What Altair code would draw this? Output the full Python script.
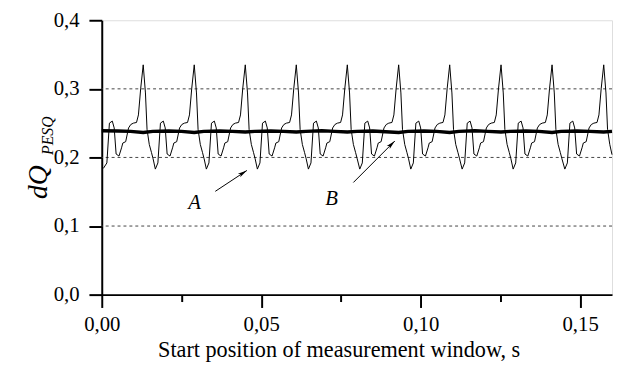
import altair as alt
import pandas as pd

# ---- data ----
thin_x = [
    0.0005, 0.0016, 0.0024, 0.0033, 0.0039, 0.0045, 0.0054, 0.0062, 0.0066, 0.0075, 0.0084, 0.0091, 0.0099, 0.0109, 0.0115, 0.0122, 0.0130, 0.0137, 0.0142, 0.0149, 0.0156, 0.0161,
    0.0168, 0.0176, 0.0184, 0.0193, 0.0199, 0.0205, 0.0214, 0.0222, 0.0226, 0.0235, 0.0244, 0.0251, 0.0259, 0.0269, 0.0275, 0.0282, 0.0290, 0.0297, 0.0302, 0.0309, 0.0316, 0.0321,
    0.0328, 0.0336, 0.0344, 0.0353, 0.0359, 0.0365, 0.0374, 0.0382, 0.0386, 0.0395, 0.0404, 0.0411, 0.0419, 0.0429, 0.0435, 0.0442, 0.0450, 0.0457, 0.0462, 0.0469, 0.0476, 0.0481,
    0.0488, 0.0496, 0.0504, 0.0513, 0.0519, 0.0525, 0.0534, 0.0542, 0.0546, 0.0555, 0.0564, 0.0571, 0.0579, 0.0589, 0.0595, 0.0602, 0.0610, 0.0617, 0.0622, 0.0629, 0.0636, 0.0641,
    0.0648, 0.0656, 0.0664, 0.0673, 0.0679, 0.0685, 0.0694, 0.0702, 0.0706, 0.0715, 0.0724, 0.0731, 0.0739, 0.0749, 0.0755, 0.0762, 0.0770, 0.0777, 0.0782, 0.0789, 0.0796, 0.0801,
    0.0809, 0.0817, 0.0825, 0.0834, 0.0840, 0.0846, 0.0855, 0.0863, 0.0867, 0.0876, 0.0885, 0.0892, 0.0900, 0.0910, 0.0916, 0.0923, 0.0931, 0.0938, 0.0943, 0.0950, 0.0957, 0.0962,
    0.0969, 0.0977, 0.0985, 0.0994, 0.1000, 0.1006, 0.1015, 0.1023, 0.1027, 0.1036, 0.1045, 0.1052, 0.1060, 0.1070, 0.1076, 0.1083, 0.1091, 0.1098, 0.1103, 0.1110, 0.1117, 0.1122,
    0.1130, 0.1138, 0.1146, 0.1155, 0.1161, 0.1167, 0.1176, 0.1184, 0.1188, 0.1197, 0.1206, 0.1213, 0.1221, 0.1231, 0.1237, 0.1244, 0.1252, 0.1259, 0.1264, 0.1271, 0.1278, 0.1283,
    0.1290, 0.1298, 0.1306, 0.1315, 0.1321, 0.1327, 0.1336, 0.1344, 0.1348, 0.1357, 0.1366, 0.1373, 0.1381, 0.1391, 0.1397, 0.1404, 0.1412, 0.1419, 0.1424, 0.1431, 0.1438, 0.1443,
    0.1452, 0.1460, 0.1468, 0.1477, 0.1483, 0.1489, 0.1498, 0.1506, 0.1510, 0.1519, 0.1528, 0.1535, 0.1543, 0.1553, 0.1559, 0.1566, 0.1574, 0.1581, 0.1586, 0.1593, 0.1600,
]
thin_y = [
    0.184, 0.192, 0.250, 0.253, 0.243, 0.205, 0.202, 0.214, 0.221, 0.223, 0.243, 0.248, 0.250, 0.251, 0.262, 0.300, 0.335, 0.294, 0.241, 0.219, 0.207, 0.198,
    0.183, 0.192, 0.250, 0.253, 0.243, 0.205, 0.202, 0.214, 0.221, 0.223, 0.243, 0.248, 0.250, 0.251, 0.262, 0.300, 0.335, 0.294, 0.241, 0.219, 0.207, 0.198,
    0.183, 0.192, 0.250, 0.253, 0.243, 0.205, 0.202, 0.214, 0.221, 0.223, 0.243, 0.248, 0.250, 0.251, 0.262, 0.300, 0.335, 0.294, 0.241, 0.219, 0.207, 0.198,
    0.183, 0.192, 0.250, 0.253, 0.243, 0.205, 0.202, 0.214, 0.221, 0.223, 0.243, 0.248, 0.250, 0.251, 0.262, 0.300, 0.335, 0.294, 0.241, 0.219, 0.207, 0.198,
    0.183, 0.192, 0.250, 0.253, 0.243, 0.205, 0.202, 0.214, 0.221, 0.223, 0.243, 0.248, 0.250, 0.251, 0.262, 0.300, 0.335, 0.294, 0.241, 0.219, 0.207, 0.198,
    0.183, 0.192, 0.250, 0.253, 0.243, 0.205, 0.202, 0.214, 0.221, 0.223, 0.243, 0.248, 0.250, 0.251, 0.262, 0.300, 0.335, 0.294, 0.241, 0.219, 0.207, 0.198,
    0.183, 0.192, 0.250, 0.253, 0.243, 0.205, 0.202, 0.214, 0.221, 0.223, 0.243, 0.248, 0.250, 0.251, 0.262, 0.300, 0.335, 0.294, 0.241, 0.219, 0.207, 0.198,
    0.183, 0.192, 0.250, 0.253, 0.243, 0.205, 0.202, 0.214, 0.221, 0.223, 0.243, 0.248, 0.250, 0.251, 0.262, 0.300, 0.335, 0.294, 0.241, 0.219, 0.207, 0.198,
    0.183, 0.192, 0.250, 0.253, 0.243, 0.205, 0.202, 0.214, 0.221, 0.223, 0.243, 0.248, 0.250, 0.251, 0.262, 0.300, 0.335, 0.294, 0.241, 0.219, 0.207, 0.198,
    0.183, 0.192, 0.250, 0.253, 0.243, 0.205, 0.202, 0.214, 0.221, 0.223, 0.243, 0.248, 0.250, 0.251, 0.262, 0.300, 0.335, 0.294, 0.241, 0.219, 0.204,
]

thick_x = [0.0, 0.005, 0.009, 0.0130, 0.016, 0.021, 0.025, 0.0290, 0.032, 0.037, 0.041, 0.0450,
           0.048, 0.053, 0.057, 0.0610, 0.064, 0.069, 0.073, 0.0770, 0.080, 0.085, 0.089, 0.0931,
           0.096, 0.101, 0.105, 0.1091, 0.112, 0.117, 0.121, 0.1252, 0.128, 0.133, 0.137, 0.1412,
           0.144, 0.149, 0.153, 0.1574, 0.160]
thick_y = [0.2390, 0.2385, 0.2380, 0.2365, 0.2380, 0.2385, 0.2380, 0.2365, 0.2380, 0.2385, 0.2380, 0.2370,
           0.2380, 0.2385, 0.2380, 0.2370, 0.2380, 0.2390, 0.2380, 0.2370, 0.2380, 0.2385, 0.2375, 0.2365,
           0.2380, 0.2385, 0.2380, 0.2365, 0.2380, 0.2390, 0.2380, 0.2370, 0.2380, 0.2385, 0.2380, 0.2365,
           0.2380, 0.2385, 0.2380, 0.2370, 0.2380]

grid_values = [0.1, 0.2, 0.3]
x_ticks = [0.0, 0.025, 0.05, 0.075, 0.10, 0.125, 0.15]
y_ticks = [0.0, 0.05, 0.1, 0.15, 0.2, 0.25, 0.3, 0.35, 0.4]

label_names = ["A", "B"]
label_x = [0.0291, 0.0721]
label_y = [0.134, 0.140]
arrow_x = [0.0356, 0.0789]
arrow_y = [0.1506, 0.1635]
arrow_x2 = [0.0455, 0.0919]
arrow_y2 = [0.181, 0.224]
arrow_angle = [57, 45]

FONT = "Liberation Serif"

thin_df = pd.DataFrame({"x": thin_x, "y": thin_y})
thick_df = pd.DataFrame({"x": thick_x, "y": thick_y})
grid_df = pd.DataFrame({"y": grid_values})
ann_df = pd.DataFrame({"name": label_names, "lx": label_x, "ly": label_y,
                       "ax": arrow_x, "ay": arrow_y, "ax2": arrow_x2, "ay2": arrow_y2,
                       "ang": arrow_angle})

x_scale = alt.Scale(domain=[0, 0.16], nice=False, zero=False)
y_scale = alt.Scale(domain=[0, 0.4], nice=False, zero=False)

x_axis = alt.Axis(
    values=x_ticks,
    labelExpr="round(datum.value*1000) % 50 === 0 ? replace(format(datum.value, '.2f'), '.', ',') : ''",
    tickSize={"condition": {"test": "round(datum.value*1000) % 50 === 0", "value": 13}, "value": 7},
    title="Start position of measurement window, s",
    grid=False, domainColor="black", domainWidth=2, tickColor="black", tickWidth=2,
    labelFont=FONT, labelFontSize=21, labelColor="black", labelPadding=6, labelFlush=False,
    titleFont=FONT, titleFontSize=22.5, titleFontWeight="normal", titleColor="black", titlePadding=5,
    titleX=240, titleAlign="center",
)
y_axis = alt.Axis(
    values=y_ticks,
    labelExpr="round(datum.value*100) % 10 === 0 ? replace(format(datum.value, '.1f'), '.', ',') : ''",
    tickSize={"condition": {"test": "round(datum.value*100) % 10 === 0", "value": 13}, "value": 7},
    title="",
    grid=False, domainColor="black", domainWidth=2, tickColor="black", tickWidth=2,
    labelFont=FONT, labelFontSize=21, labelColor="black", labelPadding=10, labelFlush=False,
)

grid = alt.Chart(grid_df).mark_rule(color="#444444", strokeWidth=1, strokeDash=[3, 3]).encode(
    y=alt.Y("y:Q", scale=y_scale, axis=y_axis)
)

thin = alt.Chart(thin_df).mark_line(color="black", strokeWidth=1).encode(
    x=alt.X("x:Q", scale=x_scale, axis=x_axis),
    y=alt.Y("y:Q", scale=y_scale),
)

thick = alt.Chart(thick_df).mark_line(color="black", strokeWidth=3.5).encode(
    x=alt.X("x:Q", scale=x_scale),
    y=alt.Y("y:Q", scale=y_scale),
)

arrows = alt.Chart(ann_df).mark_rule(color="black", strokeWidth=1).encode(
    x=alt.X("ax:Q", scale=x_scale), y=alt.Y("ay:Q", scale=y_scale),
    x2="ax2:Q", y2="ay2:Q",
)

heads = alt.Chart(ann_df).mark_point(
    shape="M0,0 L0.45,2 L0,1.5 L-0.45,2 Z", filled=True, color="black", opacity=1, size=90
).encode(
    x=alt.X("ax2:Q", scale=x_scale), y=alt.Y("ay2:Q", scale=y_scale),
    angle=alt.Angle("ang:Q", scale=None),
)

labels = alt.Chart(ann_df).mark_text(
    font=FONT, fontSize=21, fontStyle="italic", color="black"
).encode(
    x=alt.X("lx:Q", scale=x_scale), y=alt.Y("ly:Q", scale=y_scale), text="name:N"
)

ytitle_main = alt.Chart(pd.DataFrame({"t": ["dQ"]})).mark_text(
    font=FONT, fontSize=28, fontStyle="italic", color="black", angle=270, align="center", baseline="middle"
).encode(x=alt.value(-63), y=alt.value(164), text="t:N")

ytitle_sub = alt.Chart(pd.DataFrame({"t": ["PESQ"]})).mark_text(
    font=FONT, fontSize=16, fontStyle="italic", color="black", angle=270, align="center", baseline="middle"
).encode(x=alt.value(-54), y=alt.value(117), text="t:N")

chart = alt.layer(grid, thin, thick, arrows, heads, labels, ytitle_main, ytitle_sub).properties(
    width=517, height=278,
    autosize=alt.AutoSizeParams(type="none"),
    padding={"left": 95, "top": 10, "right": 1, "bottom": 78},
).configure_view(stroke=None).configure(background="white")

chart.save("out.html", embed_options={"renderer": "svg", "actions": False})
